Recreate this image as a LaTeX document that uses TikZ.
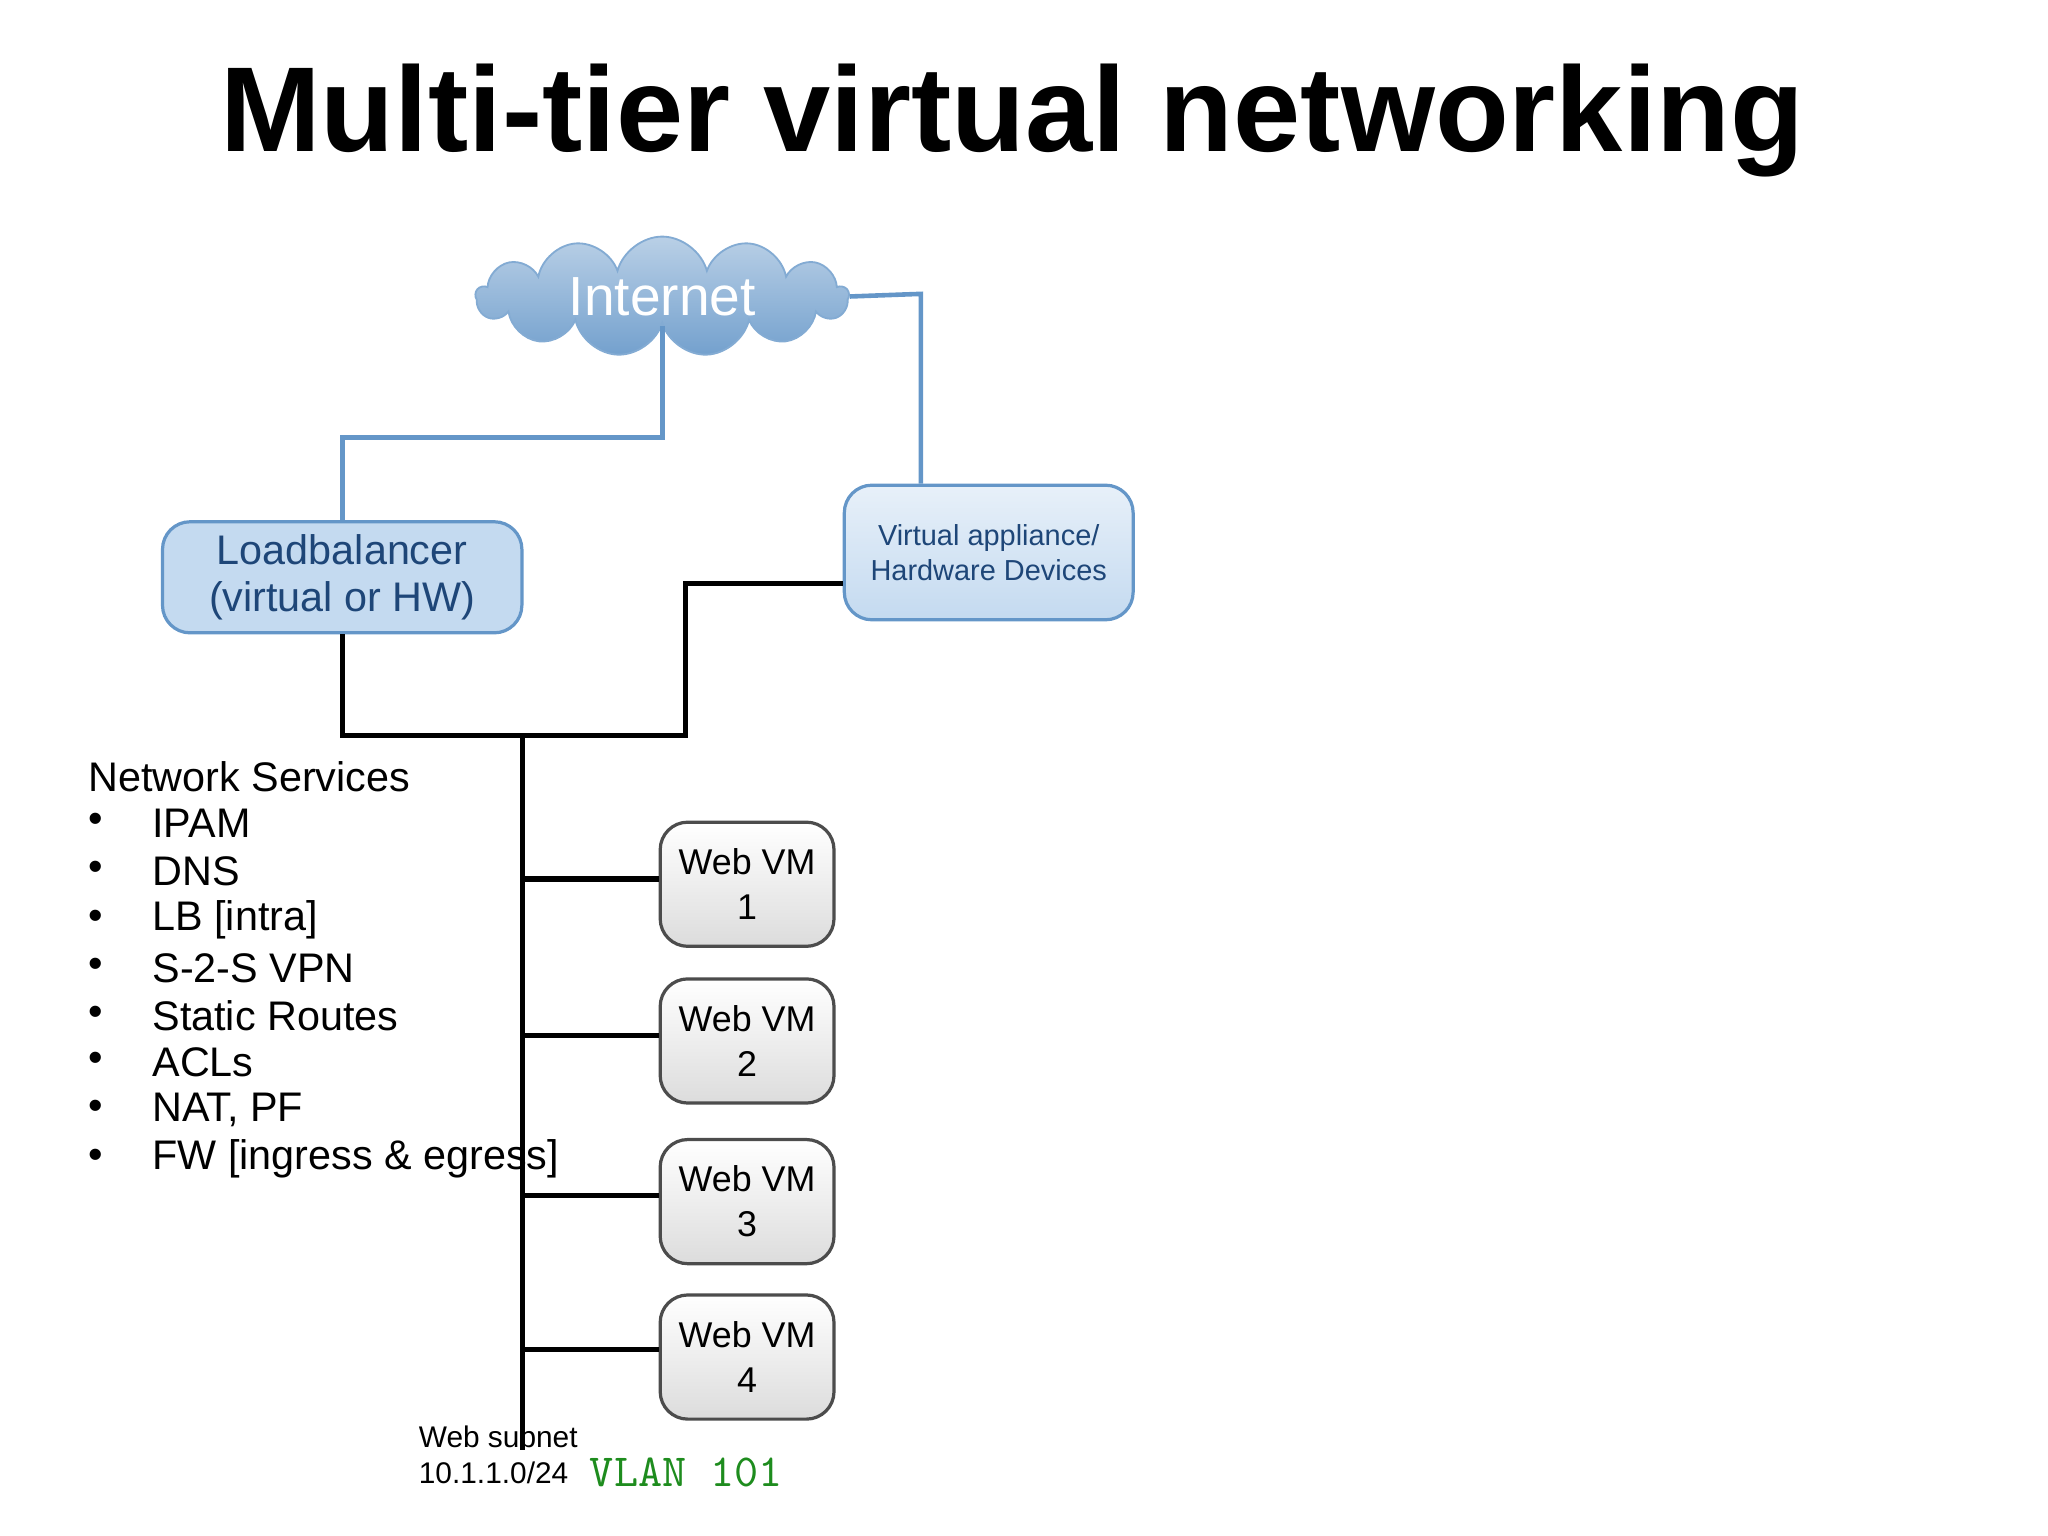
\documentclass[tikz,border=0pt]{standalone}
\usepackage{fontspec}
\setmainfont{Liberation Sans}
\usetikzlibrary{shapes.symbols}
\definecolor{bluel}{RGB}{100,150,200}
\definecolor{lbfill}{RGB}{196,218,240}
\definecolor{lbtext}{RGB}{30,70,120}
\definecolor{vmfill}{RGB}{220,220,220}
\definecolor{vlan}{RGB}{30,140,30}
\begin{document}
\begin{tikzpicture}[x=0.01cm,y=-0.01cm,
  bl/.style={draw=bluel,line width=1pt},
  bk/.style={draw=black,line width=1.1pt},
  box/.style={draw=bluel,rounded corners=6pt,line width=0.7pt,align=center,inner sep=0pt},
  vm/.style={draw=black!70,rounded corners=6pt,line width=0.7pt,align=center,inner sep=0pt,
     top color=white,bottom color=vmfill,font=\fontsize{7.8}{9.8}\selectfont,
     minimum width=1.33cm,minimum height=0.95cm},
  it/.style={anchor=west,inner sep=0pt,font=\fontsize{9}{11}\selectfont}]
\useasboundingbox (0,0) rectangle (1568,1176);
\node[font=\bfseries\fontsize{26.3}{32}\selectfont] (title) at (775,92) {Multi-tier virtual networking};
\node[cloud,cloud puffs=13,aspect=3.6,draw=bluel!80,top color=bluel!45,bottom color=bluel!90,inner sep=0pt,
  minimum width=2.85cm,minimum height=0.85cm,font=\fontsize{12}{14}\selectfont,text=white] (inet) at (507,227) {Internet};
\node[box,fill=lbfill,text=lbtext,minimum width=2.75cm,minimum height=0.85cm,
  font=\fontsize{9}{10.3}\selectfont] (lb) at (262,442) {Loadbalancer\\(virtual or HW)};
\node[box,top color=lbfill!40,bottom color=lbfill,text=lbtext,minimum width=2.21cm,minimum height=1.03cm,
  font=\fontsize{6.3}{7.5}\selectfont] (va) at (757,423) {Virtual appliance/\\Hardware Devices};
\node[vm] (vm1) at (572,677) {Web VM\\1};
\node[vm] (vm2) at (572,797) {Web VM\\2};
\node[vm] (vm3) at (572,920) {Web VM\\3};
\node[vm] (vm4) at (572,1039) {Web VM\\4};
\node[it] (ns) at (67,595) {Network Services};
\foreach \y/\t [count=\i] in {630/IPAM,667/DNS,704/LB [intra],741/S-2-S VPN,778/Static Routes,813/ACLs,850/{NAT, PF},887/FW [ingress \& egress]}{
  \node[it] (b\i) at (67,\y) {•};
  \node[it] (s\i) at (116,\y) {\t};
}
\node[anchor=west,inner sep=0pt,font=\fontsize{6.5}{8}\selectfont] (ws) at (320,1100) {Web subnet};
\node[anchor=west,inner sep=0pt,font=\fontsize{6.5}{8}\selectfont] (ip) at (320,1128) {10.1.1.0/24};
\node[anchor=west,inner sep=0pt,font=\ttfamily\fontsize{10}{10}\selectfont,text=vlan] (vl) at (451,1127) {VLAN 101};
% blue links
\coordinate (c1) at (507,335);
\coordinate (c2) at (262,335);
\draw[bl] (inet.south -| c1) -- (c1) -- (c2) -- (lb.north);
\coordinate (c3) at (705,225);
\draw[bl] (inet.east) -- (c3) -- (va.north -| c3);
% black links
\coordinate (d1) at (262,563);
\coordinate (d2) at (525,563);
\coordinate (d3) at (525,447);
\draw[bk] (lb.south) -- (d1) -- (d2) -- (d3) -- (va.west |- d3);
\coordinate (bt) at (400,563);
\coordinate (bb) at (400,1110);
\draw[bk] (bt) -- (bb);
\foreach \n/\y in {1/673,2/793,3/915,4/1033}{\coordinate (j\n) at (400,\y); \draw[bk] (j\n) -- (j\n -| vm\n.west);}
\end{tikzpicture}
\end{document}
